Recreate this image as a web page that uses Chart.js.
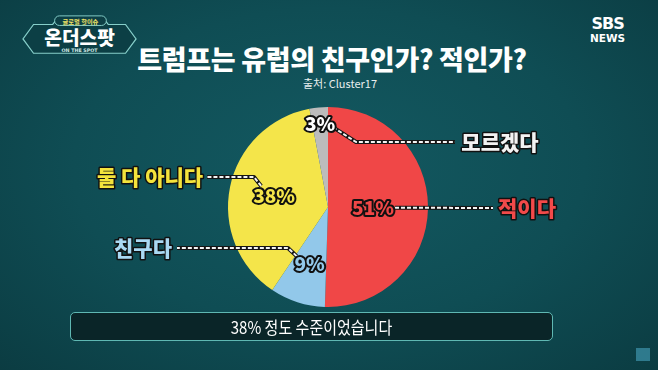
<!DOCTYPE html>
<html>
<head>
<meta charset="utf-8">
<script src="https://cdn.jsdelivr.net/npm/chart.js@4.4.1/dist/chart.umd.min.js"></script>
<style>
  body {
    margin: 0;
    width: 658px;
    height: 370px;
    overflow: hidden;
    position: relative;
    background: radial-gradient(ellipse at 50% 45%, #135961 0%, #0f4d54 55%, #0b3c42 100%);
    font-family: "Noto Sans CJK KR", sans-serif;
  }
  #wrap { position: absolute; left: 0; top: 0; width: 658px; height: 370px; }
  .title {
    position: absolute; left: 0; width: 658px; top: 39px; text-align: center;
    color: #fff; font-size: 27px; font-weight: 900; letter-spacing: -0.3px; padding-left: 6px; box-sizing: border-box;
  }
  .source {
    position: absolute; left: 0; width: 658px; top: 75px; text-align: center;
    color: #e8eeee; font-size: 11px; padding-left: 22px; box-sizing: border-box;
  }
  .caption {
    position: absolute; left: 70px; top: 312px; width: 481px; height: 27px;
    border: 1.5px solid #5fb8b3; border-radius: 5px; background: #0a2528;
    color: #fff; font-size: 15px; text-align: center; line-height: 27px;
  }
  .caption span { display: inline-block; transform: scaleY(1.15); }
  .sbs { position: absolute; left: 590px; top: 16px; color: #fff; text-align: center; line-height: 1; }
  .sbs b { display: block; font-family: "DejaVu Sans", sans-serif; font-size: 16px; font-weight: 900; letter-spacing: -1px; }
  .sbs span { display: block; font-family: "DejaVu Sans", sans-serif; font-size: 10.5px; font-weight: 700; margin-top: 1px; }
  .mini { position: absolute; left: 636px; top: 348px; width: 14px; height: 13px; background: #3b8fa6; opacity: 0.75; }
</style>
</head>
<body>
<svg style="position:absolute;left:19px;top:13px" width="122" height="46" viewBox="0 0 125 48">
  <path d="M14 12 L34 12 L38 7 L88 7 L92 12 L110 12 L121 27 L110 42 L14 42 L3 27 Z" fill="#0c3f45" stroke="#86cfca" stroke-width="1.3"/>
  <rect x="36" y="3" width="54" height="10" rx="5" fill="#0c3f45" stroke="#86cfca" stroke-width="1"/>
  <text x="63" y="11" text-anchor="middle" fill="#f2e566" font-size="6.5" font-weight="700" font-family="Noto Sans CJK KR">글로벌 핫이슈</text>
  <text x="62" y="33" text-anchor="middle" fill="#ffffff" font-size="20" font-weight="900" font-family="Noto Sans CJK KR">온더스팟</text>
  <text x="62" y="41" text-anchor="middle" fill="#cfe9e6" font-size="5" font-weight="700" font-family="DejaVu Sans">ON THE SPOT</text>
</svg>
<div class="title">트럼프는 유럽의 친구인가? 적인가?</div>
<div class="source">출처: Cluster17</div>
<div class="sbs"><b>SBS</b><span>NEWS</span></div>
<div id="wrap"><canvas id="pie" width="658" height="370"></canvas></div>
<div class="caption"><span>38% 정도 수준이었습니다</span></div>
<div class="mini"></div>
<script>
const categories = ['적이다', '친구다', '둘 다 아니다', '모르겠다'];
const shares = [51, 9, 38, 3];
const sliceColors = ['#f04747', '#92c8ea', '#f4e54a', '#bcbcbc'];
const labelColors = ['#f24a4a', '#a9d9f3', '#f4e33c', '#f3f3f3'];

// label placement per slice: radius fraction for the % text, leader path, category label anchor
const spots = [
  { r: 0.45, start: [22, 0], path: [[493, 208]], label: [527, 208] },
  { r: 0.60, start: [-13, -8], path: [[288, 248], [177, 248]], label: [143, 248] },
  { r: 0.55, start: [-13, -10], path: [[254, 177], [207, 177]], label: [150, 177] },
  { r: 0.84, start: [13, 4], path: [[356, 142], [455, 142]], label: [500, 142] }
];

function outlined(ctx, text, x, y, fill, size, stroke) {
  ctx.font = `900 ${size}px "Noto Sans CJK KR", sans-serif`;
  ctx.textAlign = 'center';
  ctx.textBaseline = 'middle';
  ctx.lineJoin = 'round';
  ctx.strokeStyle = '#111';
  ctx.lineWidth = stroke;
  if (stroke) ctx.strokeText(text, x, y);
  ctx.fillStyle = fill;
  ctx.fillText(text, x, y);
}

const pieLabels = {
  id: 'pieLabels',
  afterDraw(chart) {
    const ctx = chart.ctx;
    const arcs = chart.getDatasetMeta(0).data;
    ctx.save();
    arcs.forEach((arc, i) => {
      const s = spots[i];
      const mid = (arc.startAngle + arc.endAngle) / 2;
      const px = arc.x + Math.cos(mid) * arc.outerRadius * s.r;
      const py = arc.y + Math.sin(mid) * arc.outerRadius * s.r;
      const pts = [[px + s.start[0], py + s.start[1]], ...s.path];
      // leader line: dark outline + white dashes
      ctx.beginPath();
      pts.forEach((p, k) => k ? ctx.lineTo(p[0], p[1]) : ctx.moveTo(p[0], p[1]));
      ctx.setLineDash([]);
      ctx.strokeStyle = '#151515';
      ctx.lineWidth = 4;
      ctx.stroke();
      ctx.setLineDash([4, 2]);
      ctx.strokeStyle = '#f4f4f4';
      ctx.lineWidth = 2;
      ctx.stroke();
      ctx.setLineDash([]);
      outlined(ctx, shares[i] + '%', px, py, i === 3 ? '#ffffff' : sliceColors[i], 19, 4);
      outlined(ctx, categories[i], s.label[0], s.label[1], labelColors[i], 21, 3);
    });
    ctx.restore();
  }
};

new Chart(document.getElementById('pie'), {
  type: 'pie',
  data: {
    labels: categories,
    datasets: [{
      data: shares,
      backgroundColor: sliceColors,
      borderWidth: 0
    }]
  },
  options: {
    responsive: false,
    animation: false,
    layout: { padding: { left: 228, right: 230, top: 107, bottom: 63 } },
    plugins: { legend: { display: false }, tooltip: { enabled: false } }
  },
  plugins: [pieLabels]
});
</script>
</body>
</html>
